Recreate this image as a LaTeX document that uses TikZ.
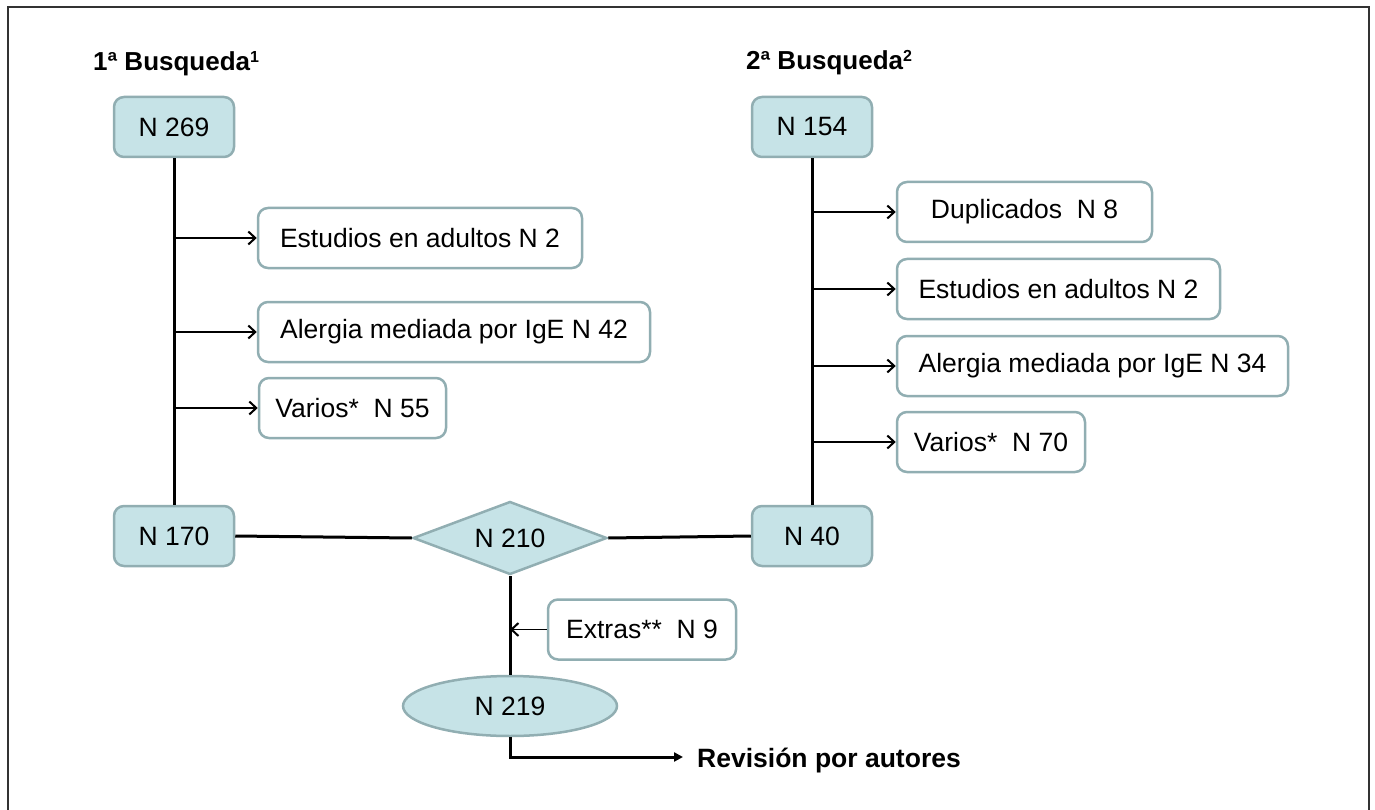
\documentclass[tikz,border=0pt]{standalone}
\usepackage{fontspec}
\setmainfont{Liberation Sans}
\usetikzlibrary{shapes.geometric,arrows.meta}
\definecolor{boxfill}{RGB}{198,227,231}
\definecolor{boxline}{RGB}{145,174,178}
\definecolor{framec}{RGB}{50,50,50}
\begin{document}
\begin{tikzpicture}[x=1pt,y=-1pt,
  every node/.style={font=\fontsize{26.5}{30}\selectfont},
  bluebox/.style={draw=boxline, fill=boxfill, line width=2.5pt, rounded corners=10pt, minimum width=120pt, minimum height=60pt, inner sep=0pt},
  whitebox/.style={draw=boxline, fill=white, line width=2.5pt, rounded corners=10pt, minimum height=60pt, inner sep=0pt},
  trunk/.style={line width=3pt, black},
  branch/.style={line width=1.6pt, black, -{Straight Barb[length=7pt,width=13pt,line width=2pt]}},
  titletext/.style={anchor=base west, inner sep=0pt, font=\fontsize{26}{30}\selectfont\bfseries},
]
\useasboundingbox (0,0) rectangle (1375,810);
\draw[line width=2pt, framec] (8,810) -- (8,7) -- (1369,7) -- (1369,810);

\node[titletext] (t1) at (93,71) {1ª Busqueda\raisebox{8pt}{\fontsize{16}{18}\selectfont 1}};
\node[titletext] (t2) at (746,70) {2ª Busqueda\raisebox{8pt}{\fontsize{16}{18}\selectfont 2}};

\node[bluebox] (a0) at (174,127) {N 269};
\node[bluebox] (a1) at (174,536) {N 170};
\node[bluebox] (b0) at (812,127) {N 154};
\node[bluebox] (b1) at (812,536) {N 40};

\node[whitebox, minimum width=324pt] (e1) at (420,238) {Estudios en adultos N 2};
\node[whitebox, minimum width=392pt] (e2) at (454,332) {Alergia mediada por IgE N 42};
\node[whitebox, minimum width=187pt] (e3) at (352.5,408) {Varios*\ \ N 55};

\node[whitebox, minimum width=255pt] (d1) at (1024.5,212) {Duplicados\ \ N 8};
\node[whitebox, minimum width=323pt] (d2) at (1058.5,289) {Estudios en adultos N 2};
\node[whitebox, minimum width=391pt] (d3) at (1092.5,366) {Alergia mediada por IgE N 34};
\node[whitebox, minimum width=188pt] (d4) at (991,442) {Varios*\ \ N 70};

\node[diamond, draw=boxline, fill=boxfill, line width=2.5pt, minimum width=194pt, minimum height=73pt, inner sep=0pt, aspect=2.6] (c) at (510,538) {N 210};

\node[whitebox, minimum width=188pt] (ex) at (642,629.5) {Extras**\ \ N 9};

\node[ellipse, draw=boxline, fill=boxfill, line width=2.5pt, minimum width=214pt, minimum height=60pt, inner sep=0pt] (f) at (510,706) {N 219};

\node[titletext, font=\fontsize{26.5}{30}\selectfont\bfseries] (r) at (697,767) {Revisión por autores};
\coordinate (rv) at (683,757);

\draw[trunk] (a0.south) -- (a1.north);
\draw[trunk] (b0.south) -- (b1.north);
\draw[trunk] (a1.east) -- (c.west);
\draw[trunk] (c.east) -- (b1.west);
\draw[trunk] (c.south) -- (f.north);
\draw[trunk, -{Triangle[length=9pt,width=9pt]}] (f.south) |- (rv);

\foreach \n in {e1,e2,e3} \draw[branch] (a0.south |- \n.west) -- (\n.west);
\foreach \n in {d1,d2,d3,d4} \draw[branch] (b0.south |- \n.west) -- (\n.west);
\draw[branch] (ex.west) -- (ex.west -| c.south);
\end{tikzpicture}
\end{document}
